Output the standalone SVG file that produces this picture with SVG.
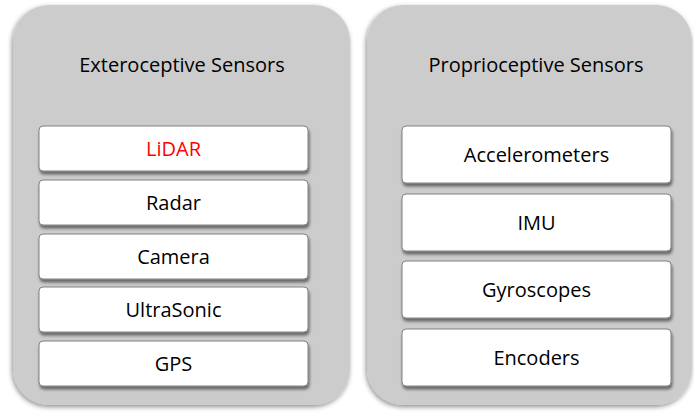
<svg xmlns="http://www.w3.org/2000/svg" width="694" height="412" viewBox="0 0 694 412">
<defs>
<filter id="pshadow" x="-10%" y="-10%" width="120%" height="120%">
<feGaussianBlur in="SourceAlpha" stdDeviation="2.5"/>
<feOffset dx="-1" dy="2" result="b"/>
<feComponentTransfer><feFuncA type="linear" slope="0.45"/></feComponentTransfer>
<feMerge><feMergeNode/><feMergeNode in="SourceGraphic"/></feMerge>
</filter>
<filter id="bshadow" x="-10%" y="-20%" width="120%" height="160%">
<feGaussianBlur in="SourceAlpha" stdDeviation="1.5"/>
<feOffset dx="1" dy="2.5" result="b"/>
<feComponentTransfer><feFuncA type="linear" slope="0.5"/></feComponentTransfer>
<feMerge><feMergeNode/><feMergeNode in="SourceGraphic"/></feMerge>
</filter>
</defs>
<style>
.panel{fill:#cccccc;filter:url(#pshadow)}
.box{fill:#ffffff;stroke:#808080;stroke-width:1;filter:url(#bshadow)}
text{font-family:"Open Sans","Liberation Sans",sans-serif;font-size:20px;fill:#000000;text-anchor:middle}
.red{fill:#ff0000}
</style>
<g id="exteroceptive">
<rect class="panel" x="13" y="5" width="337" height="400" rx="36" ry="36"/>
<text x="182" y="72">Exteroceptive Sensors</text>
</g>
<g id="proprioceptive">
<rect class="panel" x="367" y="5" width="325" height="400" rx="36" ry="36"/>
<text x="536" y="72">Proprioceptive Sensors</text>
</g>
<g id="lidar"><rect class="box" x="39" y="126" width="269" height="45" rx="4"/><text class="red" x="173.5" y="156">LiDAR</text></g>
<g id="radar"><rect class="box" x="39" y="180" width="269" height="45" rx="4"/><text x="173.5" y="210">Radar</text></g>
<g id="camera"><rect class="box" x="39" y="234" width="269" height="45" rx="4"/><text x="173.5" y="264">Camera</text></g>
<g id="ultrasonic"><rect class="box" x="39" y="287" width="269" height="45" rx="4"/><text x="173.5" y="317">UltraSonic</text></g>
<g id="gps"><rect class="box" x="39" y="341" width="269" height="45" rx="4"/><text x="173.5" y="371">GPS</text></g>
<g id="accelerometers"><rect class="box" x="402" y="126" width="269" height="57" rx="4"/><text x="536.5" y="162">Accelerometers</text></g>
<g id="imu"><rect class="box" x="402" y="194" width="269" height="57" rx="4"/><text x="536.5" y="230">IMU</text></g>
<g id="gyroscopes"><rect class="box" x="402" y="261" width="269" height="57" rx="4"/><text x="536.5" y="297">Gyroscopes</text></g>
<g id="encoders"><rect class="box" x="402" y="329" width="269" height="57" rx="4"/><text x="536.5" y="365">Encoders</text></g>
<g id="connectors"/>
</svg>
